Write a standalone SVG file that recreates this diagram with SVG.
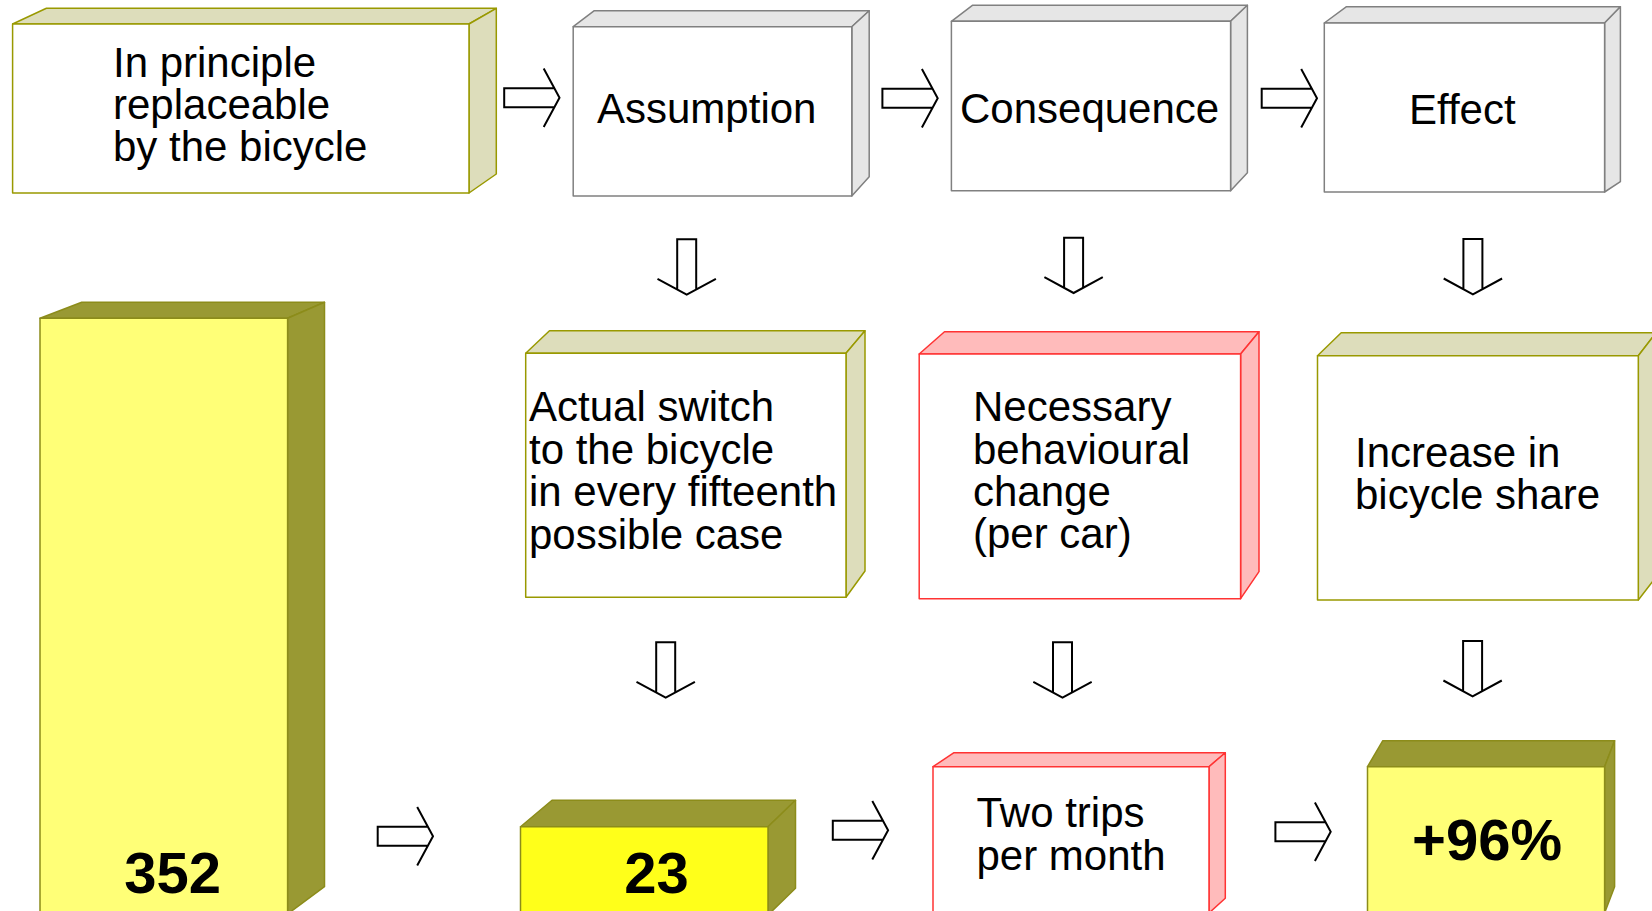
<svg xmlns="http://www.w3.org/2000/svg" xmlns:xlink="http://www.w3.org/1999/xlink" width="1652" height="911" viewBox="0 0 1652 911">
<style>
.t{font-family:"Liberation Sans",Arial,sans-serif;font-size:42px;fill:#000}
.n{font-family:"Liberation Sans",Arial,sans-serif;font-size:58px;font-weight:bold;fill:#000;text-anchor:middle}
.ol polygon{stroke:#999900;stroke-width:1.5;stroke-linejoin:round}
.ol .f{fill:#ffffff}.ol .s{fill:#ddddbb}
.gr polygon{stroke:#808080;stroke-width:1.5;stroke-linejoin:round}
.gr .f{fill:#ffffff}.gr .s{fill:#e6e6e6}
.rd polygon{stroke:#ff3333;stroke-width:1.5;stroke-linejoin:round}
.rd .f{fill:#ffffff}.rd .s{fill:#ffbbbb}
.dk polygon{stroke:#8c8c1a;stroke-width:1.5;stroke-linejoin:round}
.dk .s{fill:#999933}.dk .f{fill:#ffff77}
.dk .fb{fill:#ffff1a}
.arr{fill:none;stroke:#000;stroke-width:2}
</style>
<defs>
<path id="arrR" d="M50.2,-9.5 H0 V9.5 H50.2 M39.5,-29.2 L55.3,0 L39.5,29.2"/>
</defs>
<rect width="1652" height="911" fill="#ffffff"/>

<g id="box-principle" class="ol">
<polygon class="s" points="12.6,24 46.4,8.3 496.3,8.3 469,24"/>
<polygon class="s" points="469,24 496.3,8.3 496.3,174 469,193"/>
<polygon class="f" points="12.6,24 469,24 469,193 12.6,193"/>
<text class="t"><tspan x="113" y="77">In principle</tspan><tspan x="113" y="119">replaceable</tspan><tspan x="113" y="161">by the bicycle</tspan></text>
</g>

<g id="box-assumption" class="gr">
<polygon class="s" points="573.2,26.7 594.3,10.7 869.2,10.7 851.8,26.7"/>
<polygon class="s" points="851.8,26.7 869.2,10.7 869.2,176.7 851.8,196"/>
<polygon class="f" points="573.2,26.7 851.8,26.7 851.8,196 573.2,196"/>
<text class="t" x="597" y="123.3">Assumption</text>
</g>

<g id="box-consequence" class="gr">
<polygon class="s" points="951.4,21.3 972.4,5.3 1247.4,5.3 1230.6,21.3"/>
<polygon class="s" points="1230.6,21.3 1247.4,5.3 1247.4,172.7 1230.6,190.7"/>
<polygon class="f" points="951.4,21.3 1230.6,21.3 1230.6,190.7 951.4,190.7"/>
<text class="t" x="960" y="122.7">Consequence</text>
</g>

<g id="box-effect" class="gr">
<polygon class="s" points="1324.3,23 1346.5,6.7 1620.4,6.7 1604.6,23"/>
<polygon class="s" points="1604.6,23 1620.4,6.7 1620.4,181.7 1604.6,192"/>
<polygon class="f" points="1324.3,23 1604.6,23 1604.6,192 1324.3,192"/>
<text class="t" x="1409" y="124">Effect</text>
</g>

<g id="box-actual" class="ol">
<polygon class="s" points="525.7,353.3 549.5,330.7 865,330.7 846,353.3"/>
<polygon class="s" points="846,353.3 865,330.7 865,571 846,597.3"/>
<polygon class="f" points="525.7,353.3 846,353.3 846,597.3 525.7,597.3"/>
<text class="t"><tspan x="529" y="421">Actual switch</tspan><tspan x="529" y="463.5">to the bicycle</tspan><tspan x="529" y="506">in every fifteenth</tspan><tspan x="529" y="548.5">possible case</tspan></text>
</g>

<g id="box-necessary" class="rd">
<polygon class="s" points="919.2,354 944.5,331.7 1259,331.7 1240.6,354"/>
<polygon class="s" points="1240.6,354 1259,331.7 1259,571.7 1240.6,598.7"/>
<polygon class="f" points="919.2,354 1240.6,354 1240.6,598.7 919.2,598.7"/>
<text class="t"><tspan x="973" y="421">Necessary</tspan><tspan x="973" y="463.5">behavioural</tspan><tspan x="973" y="505.5">change</tspan><tspan x="973" y="548">(per car)</tspan></text>
</g>

<g id="box-increase" class="ol">
<polygon class="s" points="1317.5,355.7 1341.2,332.7 1656,332.7 1638.3,355.7"/>
<polygon class="s" points="1638.3,355.7 1656,332.7 1656,577 1638.3,600"/>
<polygon class="f" points="1317.5,355.7 1638.3,355.7 1638.3,600 1317.5,600"/>
<text class="t"><tspan x="1355" y="466.5">Increase in</tspan><tspan x="1355" y="508.5">bicycle share</tspan></text>
</g>

<g id="bar-352" class="dk">
<polygon class="s" points="40,318.3 81.7,302.3 324.5,302.3 287.6,318.3"/>
<polygon class="s" points="287.6,318.3 324.5,302.3 324.5,886.7 287.6,914"/>
<polygon class="f" points="40,318.3 287.6,318.3 287.6,914 40,914"/>
<text class="n" x="172.7" y="893.3">352</text>
</g>

<g id="bar-23" class="dk">
<polygon class="s" points="520.5,826.7 552,800.3 795.5,800.3 768,826.7"/>
<polygon class="s" points="768,826.7 795.5,800.3 795.5,888.3 768,915"/>
<polygon class="fb" points="520.5,826.7 768,826.7 768,915 520.5,915"/>
<text class="n" x="656.4" y="893.3">23</text>
</g>

<g id="box-twotrips" class="rd">
<polygon class="s" points="933,766.7 954,752.7 1225.3,752.7 1209,766.7"/>
<polygon class="s" points="1209,766.7 1225.3,752.7 1225.3,898.3 1209,913"/>
<polygon class="f" points="933,766.7 1209,766.7 1209,913 933,913"/>
<text class="t"><tspan x="976.5" y="827.3">Two trips</tspan><tspan x="976.5" y="870">per month</tspan></text>
</g>

<g id="bar-96" class="dk">
<polygon class="s" points="1367.5,766.7 1382.8,740.7 1614.6,740.7 1604.6,766.7"/>
<polygon class="s" points="1604.6,766.7 1614.6,740.7 1614.6,886.7 1604.6,913"/>
<polygon class="f" points="1367.5,766.7 1604.6,766.7 1604.6,913 1367.5,913"/>
<text class="n" x="1487" y="860">+96%</text>
</g>

<g id="connectors" class="arr">
<use xlink:href="#arrR" transform="translate(504.2,97.8)"/>
<use xlink:href="#arrR" transform="translate(882.4,98.2)"/>
<use xlink:href="#arrR" transform="translate(1261.7,98.2)"/>
<use xlink:href="#arrR" transform="translate(686.7,239.3) rotate(90)"/>
<use xlink:href="#arrR" transform="translate(1073.6,237.7) rotate(90)"/>
<use xlink:href="#arrR" transform="translate(1472.9,239) rotate(90)"/>
<use xlink:href="#arrR" transform="translate(665.7,642.3) rotate(90)"/>
<use xlink:href="#arrR" transform="translate(1062.5,642.3) rotate(90)"/>
<use xlink:href="#arrR" transform="translate(1472.6,641) rotate(90)"/>
<use xlink:href="#arrR" transform="translate(377.7,836.3)"/>
<use xlink:href="#arrR" transform="translate(832.8,830.3)"/>
<use xlink:href="#arrR" transform="translate(1275.4,831.7)"/>
</g>
</svg>
